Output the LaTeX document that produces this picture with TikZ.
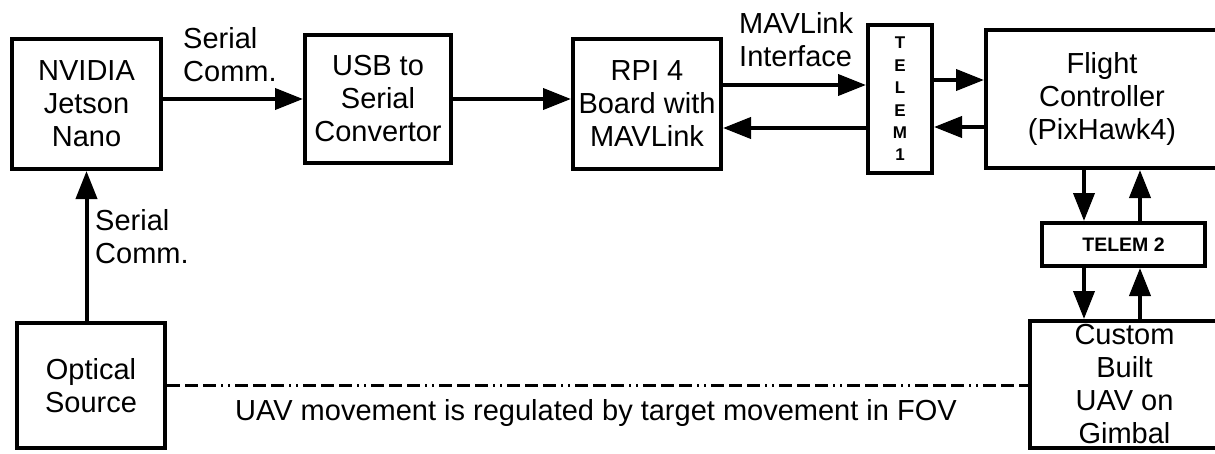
\documentclass[tikz,border=0pt]{standalone}
\usepackage{fontspec}
\setmainfont{Liberation Sans}
\usetikzlibrary{arrows.meta,calc}
\begin{document}
\begin{tikzpicture}[x=1pt,y=-1pt,
  box/.style={draw, line width=4pt, inner sep=0pt, align=center, font=\fontsize{29}{33}\selectfont},
  lbl/.style={inner sep=0pt, align=left, anchor=west, font=\fontsize{29}{33}\selectfont},
  arr/.style={line width=4pt, -{Triangle[length=28pt,width=21pt]}},
  dashdot/.style={line width=3.5pt, dash pattern=on 13pt off 5pt on 13pt off 5pt on 13pt off 5pt on 2pt off 5pt on 2pt off 5pt}]
\useasboundingbox (0,0) rectangle (1215,453);

% boxes
\node[box, minimum width=149pt, minimum height=130pt] (nv) at (86.5,104) {NVIDIA\\Jetson\\Nano};
\node[box, minimum width=146pt, minimum height=128pt] (usb) at (378,99) {USB to\\Serial\\Convertor};
\node[box, minimum width=148pt, minimum height=130pt] (rpi) at (647,104) {RPI 4\\Board with\\MAVLink};
\node[box, minimum width=64pt, minimum height=148pt, font=\fontsize{17}{22.4}\selectfont\bfseries] (t1) at (900,99) {T\\E\\L\\E\\M\\1};
\node[box, minimum width=232pt, minimum height=138pt] (fc) at (1102,99) {Flight\\Controller\\(PixHawk4)};
\node[box, minimum width=163pt, minimum height=43pt, font=\fontsize{19.5}{22}\selectfont\bfseries] (t2) at (1123.5,244.5) {TELEM 2};
\node[box, minimum width=189pt, minimum height=127pt] (cu) at (1124.5,384.5) {Custom\\Built\\UAV on\\Gimbal};
\node[box, minimum width=148pt, minimum height=125pt] (op) at (91,385.5) {Optical\\Source};

% labels
\node[lbl] (l1) at (183,55) {Serial\\Comm.};
\node[lbl] (l2) at (739,40) {MAVLink\\Interface};
\node[lbl] (l3) at (95,237) {Serial\\Comm.};
\node[inner sep=0pt, font=\fontsize{29}{33}\selectfont] (l4) at (596,412.5) {UAV movement is regulated by target movement in FOV};

% helper coordinates
\coordinate (ya) at (0,85);
\coordinate (yb) at (0,128);
\coordinate (yc) at (0,80);
\coordinate (yd) at (0,127);
\coordinate (xd) at (1084,0);
\coordinate (xu) at (1140,0);

% connectors
\draw[arr] (nv.east |- usb.west) -- (usb.west);
\draw[arr] (usb.east) -- (usb.east -| rpi.west);
\draw[arr] (rpi.east |- ya) -- (t1.west |- ya);
\draw[arr] (t1.west |- yb) -- (rpi.east |- yb);
\draw[arr] (t1.east |- yc) -- (fc.west |- yc);
\draw[arr] (fc.west |- yd) -- (t1.east |- yd);
\draw[arr] (fc.south -| xd) -- (t2.north -| xd);
\draw[arr] (t2.north -| xu) -- (fc.south -| xu);
\draw[arr] (t2.south -| xd) -- (cu.north -| xd);
\draw[arr] (cu.north -| xu) -- (t2.south -| xu);
\draw[arr] (op.north -| nv.south) -- (nv.south);
\draw[dashdot] (op.east) -- (op.east -| cu.west);
\end{tikzpicture}
\end{document}
